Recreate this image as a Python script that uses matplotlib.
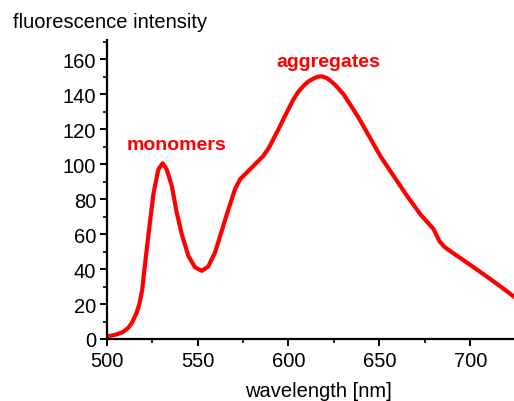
import matplotlib
matplotlib.use("Agg")
import matplotlib.pyplot as plt
from matplotlib.ticker import MultipleLocator

plt.rcParams['font.family'] = ['Liberation Sans', 'DejaVu Sans']

# Emission spectrum: wavelength (nm) and fluorescence intensity
wavelength = [500, 503, 506, 509, 512, 514, 516.5, 518, 519.5, 521, 523,
              525.7, 528.4, 530.8, 533, 535.8, 538.5, 541.3, 544.9, 548.6,
              552.3, 555.9, 559.6, 563.3, 567, 570.6, 573.4, 577.1, 580.7,
              583.5, 586.2, 589, 591.7, 594.5, 597.2, 600, 602.7, 605.5,
              608.3, 611, 613.8, 616, 618.4, 621, 623, 626, 628.5, 630.3,
              634, 638.5, 643.2, 650.5, 657.8, 665.2, 672.5, 679.8, 683,
              686, 692.7, 701.9, 711, 718, 724.3]
intensity = [1.5, 2, 2.8, 4, 6.5, 9.5, 15, 20, 28, 42, 60,
             83, 97, 100.5, 97, 87.6, 72.4, 60, 47.6, 41,
             39, 41.5, 49.5, 61.9, 74.3, 85.7, 91.4, 95.2, 99,
             101.9, 104.7, 109, 114.3, 120, 125.7, 131.5, 137, 141.5,
             144.8, 147.3, 149, 150, 150.2, 149.3, 147.8, 145, 142, 140,
             134, 126.7, 118.1, 104.7, 93.3, 81.9, 71.4, 62.9, 56,
             52.5, 47.6, 41, 34.3, 29, 24]

x_ticks = [500, 550, 600, 650, 700]
y_ticks = [0, 20, 40, 60, 80, 100, 120, 140, 160]

W, H = 514, 402
fig = plt.figure(figsize=(W / 100, H / 100), dpi=100)
ax = fig.add_axes([106.7 / W, 62 / H, 409 / W, 299 / H])

ax.plot(wavelength, intensity, color='#ff0000', lw=3.0,
        solid_joinstyle='round', solid_capstyle='round')

ax.set_xlim(500, 725)
ax.set_ylim(0, 171)
ax.set_xticks(x_ticks)
ax.set_yticks(y_ticks)
ax.xaxis.set_minor_locator(MultipleLocator(25))
ax.yaxis.set_minor_locator(MultipleLocator(10))

for s in ('top', 'right'):
    ax.spines[s].set_visible(False)
for s in ('left', 'bottom'):
    ax.spines[s].set_linewidth(1.6)

ax.tick_params(which='major', direction='out', length=5, width=1.4,
               labelsize=14.5)
ax.tick_params(which='minor', direction='out', length=3, width=1.2)
ax.tick_params(axis='x', which='major', pad=3.5)
ax.tick_params(axis='y', which='major', pad=2.5)

ax.text(538.2, 111.4, 'monomers', color='#ff0000', fontsize=14,
        fontweight='bold', ha='center', va='center')
ax.text(622, 158.5, 'aggregates', color='#ff0000', fontsize=14,
        fontweight='bold', ha='center', va='center')

fig.text(13 / W, 1 - 22 / H, 'fluorescence intensity', fontsize=14.5,
         ha='left', va='center')
fig.text(318.7 / W, 1 - 391.7 / H, 'wavelength [nm]', fontsize=14.5,
         ha='center', va='center')

fig.savefig('out.png', dpi=100)
